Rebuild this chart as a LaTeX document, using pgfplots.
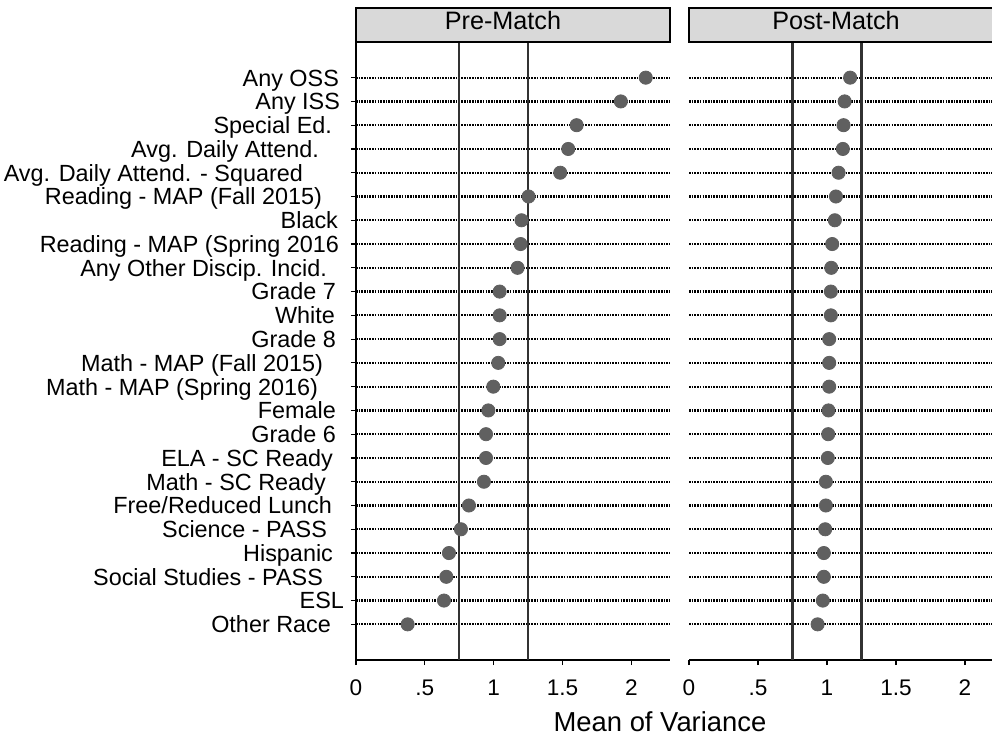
\documentclass[border=0pt]{standalone}
\usepackage{pgfplots}
\pgfplotsset{compat=1.18}
\usepackage{fontspec}
\setmainfont{Liberation Sans}
\definecolor{markgray}{RGB}{96,96,96}
\definecolor{vgray}{RGB}{50,50,50}
\definecolor{boxgray}{RGB}{217,217,217}
\pgfplotsset{
  panel/.style={
    scale only axis, height=309pt,
    xmin=0, ymin=-0.5, ymax=25.5,
    axis lines*=left,
    axis line style={line width=0.8pt, black},
    tick align=outside, major tick length=2.5pt,
    tick style={line width=0.6pt, black},
    xtick={0,0.5,1,1.5,2}, xticklabels={0,.5,1,1.5,2},
    xticklabel style={font=\fontsize{11.3}{13}\selectfont, anchor=base, yshift=-15pt},
    ytick={1,...,24},
    ymajorgrids,
    grid style={black, line width=1.1pt, dash pattern=on 0.8pt off 0.55pt},
    clip=false,
  },
  dots/.style={only marks, mark=*, mark size=3.3pt, mark options={fill=markgray, draw=markgray}},
  vline/.style={vgray, line width=1.1pt, no marks},
}
\begin{document}
\begin{tikzpicture}
\begin{axis}[panel, at={(178pt,38pt)}, anchor=south west, width=157pt, xmax=2.28,
  yticklabel style={font=\fontsize{11.7}{14}\selectfont, anchor=base east, yshift=-4.2pt},
  yticklabels={Other Race\hspace*{6.5pt}, ESL, Social Studies - PASS\hspace*{10.5pt},
    Hispanic\hspace*{5.5pt}, Science - PASS\hspace*{8.5pt}, Free/Reduced Lunch\hspace*{6pt},
    Math - SC Ready\hspace*{9pt}, ELA - SC Ready\hspace*{5.5pt}, Grade 6\hspace*{4pt},
    Female\hspace*{4pt}, Math - MAP (Spring 2016)\hspace*{13pt}, Math - MAP (Fall 2015)\hspace*{10.5pt},
    Grade 8\hspace*{4pt}, White\hspace*{4.5pt}, Grade 7\hspace*{4pt},
    Any Other Discip. Incid.\hspace*{8.5pt}, Reading - MAP (Spring 2016\hspace*{2.5pt},
    Black\hspace*{3pt}, Reading - MAP (Fall 2015)\hspace*{11pt},
    Avg. Daily Attend. - Squared\hspace*{20.5pt}, Avg. Daily Attend.\hspace*{12.5pt},
    Special Ed.\hspace*{6pt}, Any ISS\hspace*{2pt}, Any OSS\hspace*{2.5pt}},
]
\addplot[vline] coordinates {(0.75,-0.5) (0.75,25.5)};
\addplot[vline] coordinates {(1.25,-0.5) (1.25,25.5)};
\addplot[dots] coordinates {
 (0.375,1) (0.639,2) (0.656,3) (0.675,4) (0.762,5) (0.820,6) (0.929,7) (0.944,8)
 (0.944,9) (0.961,10) (0.997,11) (1.033,12) (1.043,13) (1.043,14) (1.043,15) (1.173,16)
 (1.195,17) (1.202,18) (1.253,19) (1.483,20) (1.541,21) (1.602,22) (1.923,23) (2.104,24)};
\draw[fill=boxgray, line width=0.6pt] (rel axis cs:0,1) rectangle ([yshift=17pt]rel axis cs:1,1);
\node[anchor=base, font=\fontsize{12.6}{15}\selectfont] at ([xshift=73.5pt, yshift=6.15pt]rel axis cs:0,1) {Pre-Match};
\end{axis}
\begin{axis}[panel, at={(344.5pt,38pt)}, anchor=south west, width=151.5pt, xmax=2.196,
  yticklabels={}, ytick style={draw=none},
  y axis line style={draw=none},
]
\addplot[vline] coordinates {(0.75,-0.5) (0.75,25.5)};
\addplot[vline] coordinates {(1.25,-0.5) (1.25,25.5)};
\addplot[dots] coordinates {
 (0.932,1) (0.970,2) (0.977,3) (0.977,4) (0.987,5) (0.992,6) (0.992,7) (1.006,8)
 (1.009,9) (1.011,10) (1.016,11) (1.016,12) (1.016,13) (1.028,14) (1.028,15) (1.031,16)
 (1.038,17) (1.057,18) (1.065,19) (1.084,20) (1.115,21) (1.120,22) (1.128,23) (1.168,24)};
\draw[fill=boxgray, line width=0.6pt] (rel axis cs:0,1) rectangle ([yshift=17pt]rel axis cs:1.1,1);
\node[anchor=base, font=\fontsize{12.6}{15}\selectfont] at ([xshift=73.5pt, yshift=6.15pt]rel axis cs:0,1) {Post-Match};
\end{axis}
\node[anchor=base, font=\fontsize{13.7}{16}\selectfont] at (330pt,2.2pt) {Mean of Variance};
\pgfresetboundingbox
\path[use as bounding box] (0,0) rectangle (496pt,368pt);
\end{tikzpicture}
\end{document}
